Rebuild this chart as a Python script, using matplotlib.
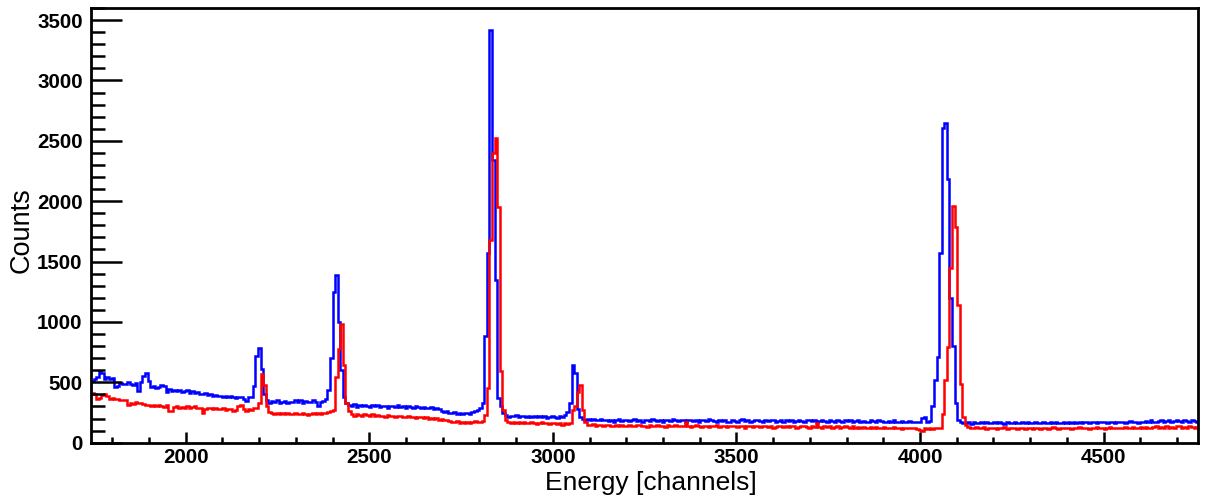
import numpy as np
import matplotlib
matplotlib.use("Agg")
import matplotlib.pyplot as plt
from matplotlib.ticker import MultipleLocator

plt.rcParams["font.family"] = ["Liberation Sans", "DejaVu Sans"]

# -----------------------------
# DATA: counts per 7-channel bin, first bin starts at channel 1742
# -----------------------------
BIN_START = 1742
BIN_WIDTH = 7

blue_counts = [
    515, 525, 540, 590, 575, 530, 540, 525, 535, 465,
    470, 495, 490, 485, 500, 490, 480, 495, 425, 500,
    555, 575, 510, 465, 470, 455, 460, 480, 470, 420,
    445, 430, 440, 425, 435, 420, 430, 440, 415, 425,
    410, 420, 405, 400, 410, 395, 400, 390, 395, 385,
    390, 380, 390, 375, 385, 380, 370, 380, 375, 365,
    345, 380, 380, 470, 720, 785, 610, 400, 350, 330,
    345, 335, 350, 330, 340, 345, 330, 340, 335, 350,
    340, 355, 330, 345, 335, 340, 350, 335, 300, 340,
    345, 360, 440, 700, 1250, 1390, 1000, 600, 380, 330,
    310, 300, 320, 295, 310, 305, 315, 300, 295, 310,
    300, 310, 295, 305, 300, 290, 305, 300, 295, 310,
    295, 300, 290, 305, 295, 290, 300, 295, 285, 295,
    290, 285, 295, 280, 290, 275, 260, 255, 265, 250,
    245, 255, 240, 250, 235, 250, 245, 240, 255, 260,
    270, 290, 330, 880, 1570, 3420, 2340, 1350, 370, 300,
    250, 230, 215, 225, 220, 230, 215, 225, 220, 210,
    225, 215, 220, 210, 225, 215, 220, 205, 215, 220,
    215, 205, 220, 210, 230, 255, 330, 640, 580, 280,
    215, 200, 190, 200, 185, 195, 190, 185, 200, 190,
    185, 180, 190, 175, 185, 195, 180, 185, 190, 180,
    185, 200, 180, 185, 175, 190, 185, 180, 195, 185,
    180, 185, 175, 190, 185, 180, 200, 185, 180, 190,
    185, 175, 185, 190, 180, 185, 175, 190, 185, 180,
    195, 185, 180, 175, 185, 180, 190, 170, 175, 185,
    180, 175, 185, 195, 180, 185, 175, 180, 190, 185,
    180, 175, 185, 180, 190, 185, 175, 180, 185, 175,
    185, 180, 190, 175, 180, 185, 180, 175, 185, 190,
    180, 185, 175, 180, 190, 180, 175, 185, 180, 175,
    185, 180, 175, 190, 180, 185, 175, 180, 185, 175,
    180, 170, 175, 185, 180, 175, 185, 180, 170, 175,
    180, 175, 185, 170, 175, 180, 175, 170, 180, 175,
    175, 170, 175, 205, 210, 175, 180, 300, 520, 710,
    1570, 2610, 2650, 2180, 1200, 800, 330, 190, 175, 165,
    160, 170, 155, 175, 165, 160, 175, 165, 170, 160,
    165, 170, 160, 175, 165, 155, 170, 165, 160, 170,
    165, 160, 170, 165, 175, 160, 165, 170, 160, 165,
    170, 165, 160, 170, 165, 175, 165, 160, 170, 165,
    170, 165, 175, 165, 170, 160, 170, 175, 165, 170,
    175, 165, 170, 175, 170, 165, 175, 170, 165, 175,
    170, 175, 165, 170, 180, 170, 175, 165, 170, 175,
    180, 175, 185, 175, 170, 180, 190, 175, 180, 185,
    175, 180, 190, 180, 175, 185, 180, 175, 185, 180, 175,
]

red_counts = [
    410, 400, 365, 370, 395, 400, 390, 365, 370, 360,
    365, 355, 350, 355, 315, 330, 320, 335, 325, 330,
    320, 310, 315, 305, 310, 300, 315, 305, 295, 310,
    265, 260, 295, 300, 290, 295, 285, 300, 290, 295,
    300, 290, 285, 245, 280, 290, 285, 275, 290, 280,
    275, 285, 270, 280, 275, 265, 270, 300, 310, 280,
    265, 275, 270, 285, 290, 330, 570, 480, 300, 255,
    245, 240, 250, 235, 245, 240, 250, 235, 240, 245,
    240, 235, 245, 240, 230, 240, 245, 235, 245, 240,
    250, 245, 255, 260, 270, 540, 780, 985, 640, 330,
    260, 235, 225, 235, 230, 220, 235, 230, 225, 235,
    225, 230, 220, 225, 215, 230, 220, 225, 215, 225,
    220, 210, 215, 220, 210, 215, 205, 215, 210, 205,
    210, 200, 205, 195, 205, 190, 195, 185, 190, 180,
    175, 170, 180, 165, 170, 160, 175, 165, 170, 180,
    175, 170, 180, 230, 450, 1680, 2400, 2520, 1950, 590,
    270, 190, 170, 160, 175, 165, 170, 160, 170, 165,
    160, 170, 165, 155, 165, 170, 160, 165, 155, 160,
    160, 155, 165, 150, 160, 155, 165, 270, 300, 420,
    480, 270, 175, 150, 145, 155, 140, 150, 145, 140,
    145, 150, 140, 135, 145, 140, 150, 135, 140, 145,
    140, 135, 145, 150, 140, 135, 130, 145, 140, 135,
    145, 135, 140, 130, 145, 140, 135, 150, 140, 135,
    140, 170, 135, 130, 140, 145, 135, 130, 140, 135,
    130, 140, 135, 145, 130, 135, 140, 130, 135, 140,
    135, 130, 140, 135, 125, 140, 135, 130, 140, 135,
    130, 135, 140, 130, 135, 125, 130, 140, 135, 130,
    135, 130, 140, 135, 125, 130, 135, 140, 130, 125,
    135, 130, 165, 130, 125, 135, 130, 140, 125, 130,
    135, 125, 130, 135, 130, 125, 135, 120, 130, 125,
    130, 125, 120, 130, 125, 130, 120, 125, 130, 120,
    125, 120, 130, 125, 120, 115, 125, 120, 125, 120,
    120, 115, 105, 95, 120, 115, 125, 115, 120, 125,
    125, 240, 520, 795, 1450, 1960, 1790, 1140, 490, 215,
    150, 130, 125, 120, 130, 125, 120, 130, 115, 125,
    120, 125, 115, 125, 120, 130, 115, 120, 125, 120,
    115, 125, 120, 110, 125, 120, 115, 125, 120, 115,
    120, 125, 115, 120, 130, 120, 115, 125, 120, 125,
    120, 115, 125, 120, 130, 125, 120, 125, 115, 125,
    125, 130, 120, 125, 115, 125, 130, 120, 125, 120,
    125, 120, 130, 125, 120, 130, 125, 120, 130, 125,
    130, 125, 120, 130, 140, 125, 130, 125, 135, 120,
    130, 125, 135, 140, 125, 130, 120, 135, 130, 125, 130,
]

x_ticks = [2000, 2500, 3000, 3500, 4000, 4500]
y_ticks = [0, 500, 1000, 1500, 2000, 2500, 3000, 3500]
x_limits = (1742, 4757)
y_limits = (0, 3600)


def edges_for(counts):
    return BIN_START + BIN_WIDTH * np.arange(len(counts) + 1)


fig = plt.figure(figsize=(12.06, 4.96), dpi=100)
ax = fig.add_axes([91 / 1206, 1 - 442.7 / 496, (1198 - 91) / 1206, (442.7 - 8) / 496])

ax.stairs(blue_counts, edges_for(blue_counts), baseline=None, color="#0000ff", linewidth=1.8)
ax.stairs(red_counts, edges_for(red_counts), baseline=None, color="#ff0000", linewidth=1.8)

ax.set_xlim(*x_limits)
ax.set_ylim(*y_limits)
ax.set_xticks(x_ticks)
ax.set_yticks(y_ticks)
ax.xaxis.set_minor_locator(MultipleLocator(100))
ax.yaxis.set_minor_locator(MultipleLocator(100))

for s in ax.spines.values():
    s.set_linewidth(2.0)

ax.tick_params(axis="x", which="major", direction="in", length=8, width=1.8, pad=4)
ax.tick_params(axis="x", which="minor", direction="in", length=4.5, width=1.8)
ax.tick_params(axis="y", which="major", direction="in", length=22, width=1.8, pad=6)
ax.tick_params(axis="y", which="minor", direction="in", length=10, width=1.8)
ax.tick_params(top=False, right=False, which="both")

for lab in ax.get_xticklabels() + ax.get_yticklabels():
    lab.set_fontweight("bold")
    lab.set_fontsize(14.8)

fig.text(651 / 1206, 1 - 483 / 496, "Energy [channels]", ha="center", va="center", fontsize=19)
fig.text(22 / 1206, 1 - 230 / 496, "Counts", ha="center", va="center", rotation=90, fontsize=19.5)

fig.savefig("out.png", dpi=100, facecolor="white")
